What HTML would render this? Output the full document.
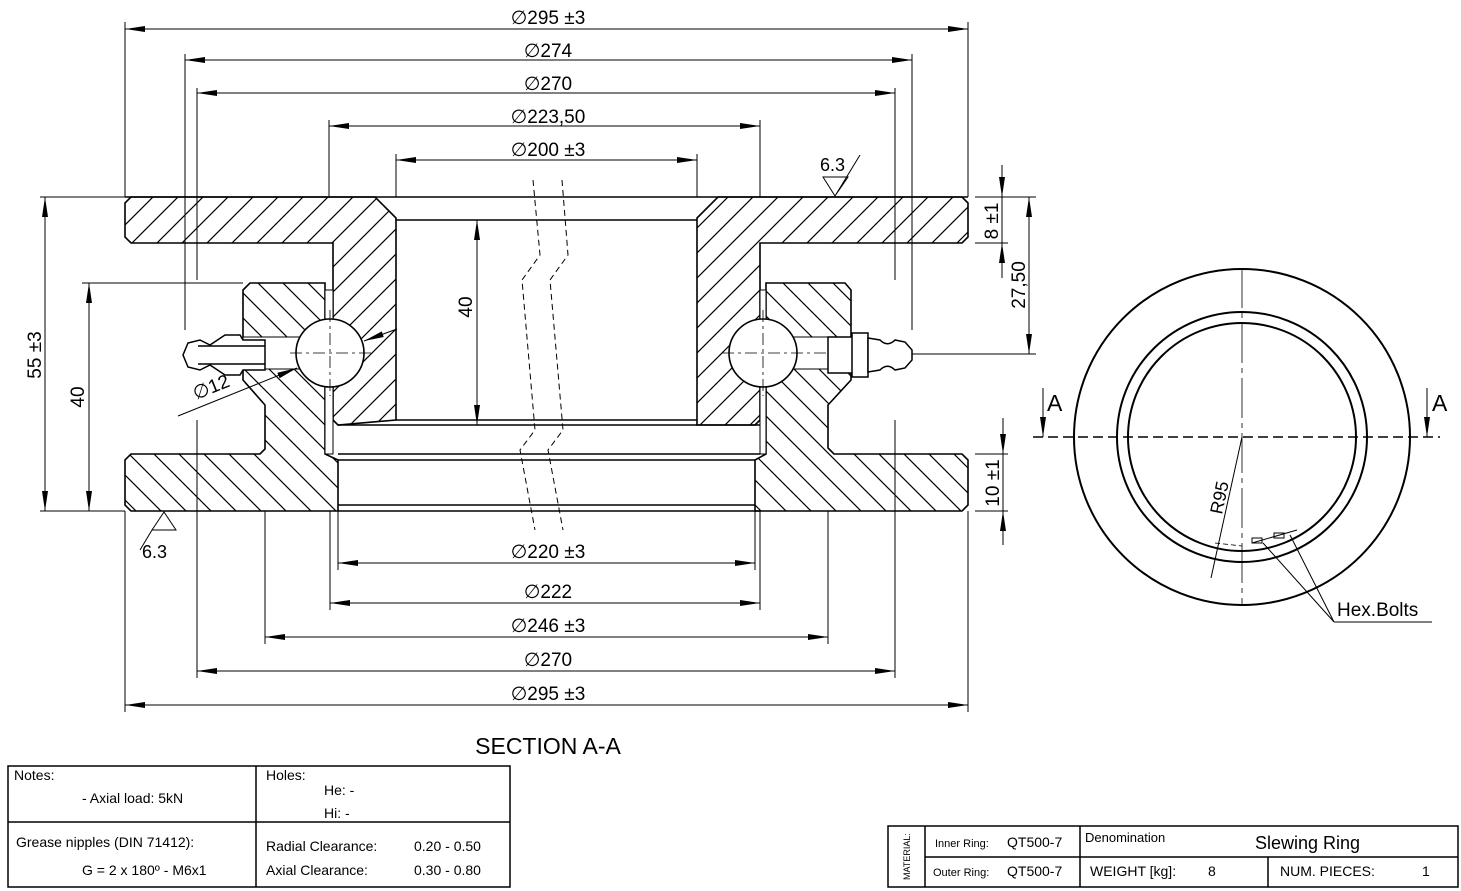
<!DOCTYPE html>
<html><head><meta charset="utf-8"><style>
html,body{margin:0;padding:0;background:#fff}
svg{display:block}
text{font-family:"Liberation Sans","DejaVu Sans",sans-serif;fill:#000}
</style></head><body>
<svg width="1461" height="891" viewBox="0 0 1461 891" xmlns="http://www.w3.org/2000/svg">
<defs>
<pattern id="hf" patternUnits="userSpaceOnUse" width="25" height="25">
<path d="M-5,5 L5,-5 M0,25 L25,0 M20,30 L30,20" stroke="#000" stroke-width="1.2"/>
</pattern>
<pattern id="hb" patternUnits="userSpaceOnUse" width="25" height="25">
<path d="M-5,20 L5,30 M0,0 L25,25 M20,-5 L30,5" stroke="#000" stroke-width="1.2"/>
</pattern>
<marker id="ae" viewBox="0 0 20 8" refX="20" refY="4" markerWidth="20" markerHeight="8" markerUnits="userSpaceOnUse" orient="auto"><path d="M0,1 L20,4 L0,7 Z" fill="#000"/></marker>
<marker id="as" viewBox="0 0 20 8" refX="0" refY="4" markerWidth="20" markerHeight="8" markerUnits="userSpaceOnUse" orient="auto"><path d="M20,1 L0,4 L20,7 Z" fill="#000"/></marker>
</defs>

<g stroke="#000" stroke-width="1" fill="none">
<path d="M125,22 V197 M968,22 V197 M185,54 V330 M912,54 V330 M197,88 V280 M895,88 V280 M329,120 V197 M760,120 V197 M396,154 V197 M697,154 V197"/>
<path d="M125,511 V712 M968,511 V712 M338,511 V570 M755,511 V570 M330,511 V610 M760,511 V610 M265,511 V644 M828,511 V644 M197,420 V678 M895,420 V678"/>
<path d="M40,197 H125 M82,283 H243 M40,511 H125 M975,197 H1036 M975,243 H1008 M912,354 H1036 M975,454 H1008 M975,511 H1008 M396,220 H484 M396,425 H484"/>
</g>

<g stroke="#000" stroke-width="1" fill="none">
<line x1="125" y1="29" x2="968" y2="29" marker-start="url(#as)" marker-end="url(#ae)"/>
<line x1="185" y1="60" x2="912" y2="60" marker-start="url(#as)" marker-end="url(#ae)"/>
<line x1="197" y1="93" x2="895" y2="93" marker-start="url(#as)" marker-end="url(#ae)"/>
<line x1="329" y1="126" x2="760" y2="126" marker-start="url(#as)" marker-end="url(#ae)"/>
<line x1="396" y1="160" x2="697" y2="160" marker-start="url(#as)" marker-end="url(#ae)"/>
<line x1="338" y1="563" x2="755" y2="563" marker-start="url(#as)" marker-end="url(#ae)"/>
<line x1="330" y1="603" x2="760" y2="603" marker-start="url(#as)" marker-end="url(#ae)"/>
<line x1="265" y1="637" x2="828" y2="637" marker-start="url(#as)" marker-end="url(#ae)"/>
<line x1="197" y1="671" x2="895" y2="671" marker-start="url(#as)" marker-end="url(#ae)"/>
<line x1="125" y1="705" x2="968" y2="705" marker-start="url(#as)" marker-end="url(#ae)"/>
<line x1="45" y1="197" x2="45" y2="511" marker-start="url(#as)" marker-end="url(#ae)"/>
<line x1="89" y1="283" x2="89" y2="511" marker-start="url(#as)" marker-end="url(#ae)"/>
<line x1="477" y1="220" x2="477" y2="425" marker-start="url(#as)" marker-end="url(#ae)"/>
<line x1="1029" y1="197" x2="1029" y2="354" marker-start="url(#as)" marker-end="url(#ae)"/>
<line x1="1002" y1="165" x2="1002" y2="197" marker-end="url(#ae)"/>
<line x1="1002" y1="278" x2="1002" y2="243" marker-end="url(#ae)"/>
<line x1="1002" y1="197" x2="1002" y2="243"/>
<line x1="1003" y1="418" x2="1003" y2="454" marker-end="url(#ae)"/>
<line x1="1003" y1="545" x2="1003" y2="511" marker-end="url(#ae)"/>
<line x1="1003" y1="454" x2="1003" y2="511"/>
</g>

<g font-size="19" text-anchor="middle">
<text x="548" y="24">∅295 ±3</text>
<text x="548" y="57">∅274</text>
<text x="548" y="90">∅270</text>
<text x="548" y="123">∅223,50</text>
<text x="548" y="156">∅200 ±3</text>
<text x="548" y="558">∅220 ±3</text>
<text x="548" y="598">∅222</text>
<text x="548" y="632">∅246 ±3</text>
<text x="548" y="666">∅270</text>
<text x="548" y="700">∅295 ±3</text>
<text transform="translate(41,355) rotate(-90)">55 ±3</text>
<text transform="translate(84,397) rotate(-90)">40</text>
<text transform="translate(472,307) rotate(-90)">40</text>
<text transform="translate(998,221) rotate(-90)">8 ±1</text>
<text transform="translate(1025,285) rotate(-90)">27,50</text>
<text transform="translate(999,483) rotate(-90)">10 ±1</text>
</g>

<g stroke="#000" stroke-width="1.5" fill="none">
<path d="M125,197 H968 M396,220 H697 M396,420 H697 M338,425 H760 M338,460 H755 M338,505 H755 M338,454 H760 M338,511 H760"/>
</g>

<g stroke="#000" stroke-width="1.6">
<path fill="url(#hf)" d="M125,203 L131,197 L375,197 L396,218 L396,420 L338,425 L333,420 L333,243 L131,243 L125,237 Z"/>
<path fill="url(#hf)" d="M697,218 L718,197 L962,197 L968,203 L968,237 L962,243 L760,243 L760,420 L755,425 L697,425 Z"/>
<path fill="url(#hb)" d="M243,290 L250,283 L325,283 L325,454 L338,460 L338,511 L131,511 L125,505 L125,460 L131,454 L260,454 L265,449 L265,405 L243,380 Z"/>
<path fill="url(#hb)" d="M766,283 L845,283 L851,290 L851,380 L828,405 L828,448 L834,454 L962,454 L968,460 L968,505 L962,511 L755,511 L755,460 L766,454 Z"/>
</g>
<g fill="#fff" stroke="#000" stroke-width="1">
<rect x="325" y="290" width="8" height="40"/>
<rect x="325" y="380" width="8" height="74"/>
<rect x="760" y="290" width="6" height="40"/>
<rect x="760" y="380" width="6" height="74"/>
<rect x="243" y="337" width="90" height="32"/>
<rect x="766" y="337" width="70" height="32"/>
</g>
<g stroke="#000" fill="#fff" stroke-width="1.6">
<circle cx="330" cy="353" r="34"/>
<circle cx="763" cy="353" r="34"/>
</g>
<g stroke="#000" stroke-width="0.8" fill="none" stroke-dasharray="12,4,3,4">
<path d="M290,353 H372 M330,310 V396 M722,353 H910 M763,310 V396"/>
</g>
<g stroke="#000" stroke-width="1.5" fill="#fff">
<path d="M265,340 H243 L240,335 H225 L210,345 L200,340 L188,343 L183,355 L188,367 L200,370 L210,365 L225,375 H240 L243,370 H265 Z"/>
<path d="M198,346 H265 M198,364 H265" fill="none"/>
<rect x="828" y="337" width="25" height="36"/>
<rect x="852" y="333" width="16" height="44"/>
<path d="M868,338 L880,340 C885,345 890,345 895,340 L905,342 L912,350 L912,360 L905,368 L895,370 C890,365 885,365 880,370 L868,372 Z"/>
</g>
<g stroke="#000" stroke-width="1" fill="none">
<line x1="178" y1="416" x2="297" y2="368" marker-end="url(#ae)"/>
<line x1="397" y1="329" x2="364" y2="341" marker-end="url(#ae)"/>
</g>
<text font-size="19" transform="translate(196,400) rotate(-22)">∅12</text>

<g stroke="#000" stroke-width="1" stroke-dasharray="6,4" fill="none">
<path d="M533,180 L540,255 L522,280 L535,430 L520,450 L535,530"/>
<path d="M562,180 L568,255 L550,280 L563,430 L548,450 L563,530"/>
</g>

<g stroke="#000" stroke-width="1" fill="none">
<path d="M823,177 H848 L835,196 Z M835,196 L860,155"/>
<path d="M152,530 H176 L164,512 Z M152,530 L140,550"/>
</g>
<text x="820" y="171" font-size="18">6.3</text>
<text x="142" y="558" font-size="18">6.3</text>

<text x="548" y="754" font-size="23" text-anchor="middle">SECTION A-A</text>

<g stroke="#000" fill="none">
<circle cx="1242" cy="437" r="168" stroke-width="2"/>
<circle cx="1242" cy="437" r="125" stroke-width="2"/>
<circle cx="1242" cy="437" r="114" stroke-width="2"/>
<path d="M1242,268 V605" stroke-width="0.8" stroke-dasharray="40,5,5,5"/>
<path d="M1033,437 H1440" stroke-width="1.5" stroke-dasharray="10,5"/>
<line x1="1043" y1="388" x2="1043" y2="437" stroke-width="1" marker-end="url(#ae)"/>
<line x1="1427" y1="388" x2="1427" y2="437" stroke-width="1" marker-end="url(#ae)"/>
<line x1="1242" y1="437" x2="1211" y2="578" stroke-width="1"/>
<path d="M1215,543 L1242,546" stroke-width="0.8" stroke-dasharray="5,3"/>
<path d="M1252,543 L1297,530" stroke-width="1"/>
<rect x="1252" y="538" width="10" height="5" stroke-width="1"/>
<rect x="1274" y="533" width="10" height="5" stroke-width="1"/>
<path d="M1263,543 L1334,622 M1290,535 L1334,622 M1334,622 H1432" stroke-width="1"/>
</g>
<text x="1047" y="411" font-size="23">A</text>
<text x="1432" y="411" font-size="23">A</text>
<text font-size="18" transform="translate(1222,515) rotate(-78)">R95</text>
<text x="1337" y="616" font-size="19">Hex.Bolts</text>

<g stroke="#000" stroke-width="1.5" fill="none">
<rect x="8" y="766" width="502" height="121"/>
<line x1="8" y1="822" x2="510" y2="822"/>
<line x1="256" y1="766" x2="256" y2="887"/>
</g>
<g font-size="14">
<text x="14" y="780">Notes:</text>
<text x="82" y="803">- Axial load: 5kN</text>
<text x="266" y="780">Holes:</text>
<text x="324" y="795">He: -</text>
<text x="324" y="818">Hi: -</text>
<text x="16" y="847">Grease nipples (DIN 71412):</text>
<text x="82" y="875">G = 2 x 180º  - M6x1</text>
<text x="266" y="851">Radial Clearance:</text>
<text x="414" y="851">0.20 - 0.50</text>
<text x="266" y="875">Axial Clearance:</text>
<text x="414" y="875">0.30 - 0.80</text>
</g>

<g stroke="#000" stroke-width="1.5" fill="none">
<rect x="888" y="826" width="570" height="61"/>
<line x1="925" y1="826" x2="925" y2="887"/>
<line x1="925" y1="857" x2="1458" y2="857"/>
<line x1="1080" y1="826" x2="1080" y2="887"/>
<line x1="1268" y1="857" x2="1268" y2="887"/>
</g>
<text font-size="9" transform="translate(910,880) rotate(-90)">MATERIAL:</text>
<g font-size="14">
<text x="935" y="847" font-size="11">Inner Ring:</text>
<text x="1007" y="847">QT500-7</text>
<text x="933" y="876" font-size="11">Outer Ring:</text>
<text x="1007" y="876">QT500-7</text>
<text x="1085" y="842" font-size="13">Denomination</text>
<text x="1255" y="849" font-size="18">Slewing Ring</text>
<text x="1090" y="876">WEIGHT [kg]:</text>
<text x="1208" y="876">8</text>
<text x="1280" y="876">NUM. PIECES:</text>
<text x="1422" y="876">1</text>
</g>
</svg>
</body></html>
